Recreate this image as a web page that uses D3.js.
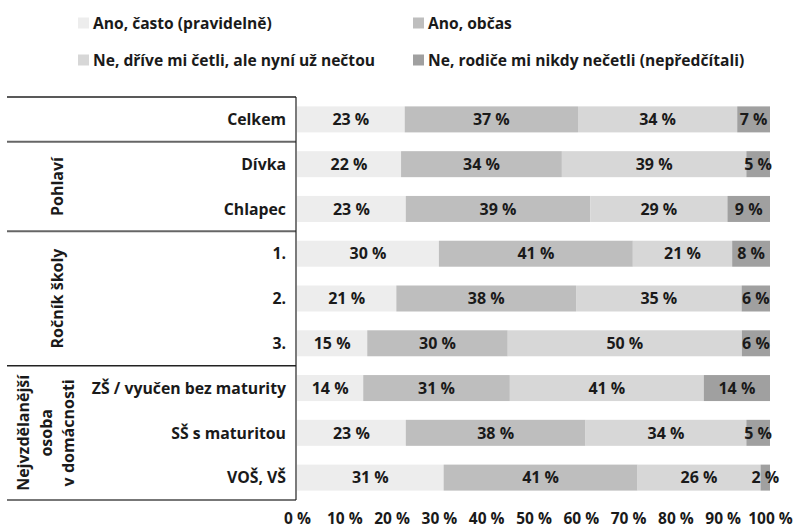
<!DOCTYPE html>
<html>
  <head>
    <meta charset="utf-8">
    <title>Čtení rodičů</title>
    <script src="https://cdn.jsdelivr.net/npm/d3@7/dist/d3.min.js"></script>
    <style>
      body { margin: 0; background: #fff; }
      text { font-family: "Open Sans", sans-serif; font-weight: 700; fill: #1a1a1a; }
    </style>
  </head>
  <body>
    <svg width="797" height="528" id="mainsvg"></svg>
    <script>
      const svg = d3.select('#mainsvg');

      const series = ['Ano, často (pravidelně)', 'Ano, občas', 'Ne, dříve mi četli, ale nyní už nečtou', 'Ne, rodiče mi nikdy nečetli (nepředčítali)'];
      const colors = ['#ededed', '#bebebe', '#d7d7d7', '#a0a0a0'];
      const rows = ['Celkem', 'Dívka', 'Chlapec', '1.', '2.', '3.', 'ZŠ / vyučen bez maturity', 'SŠ s maturitou', 'VOŠ, VŠ'];
      const often   = [23, 22, 23, 30, 21, 15, 14, 23, 31];
      const sometimes = [37, 34, 39, 41, 38, 30, 31, 38, 41];
      const before  = [34, 39, 29, 21, 35, 50, 41, 34, 26];
      const never   = [7, 5, 9, 8, 6, 6, 14, 5, 2];
      const groups = [
        {name: ['Pohlaví'], rows: ['Dívka', 'Chlapec']},
        {name: ['Ročník školy'], rows: ['1.', '2.', '3.']},
        {name: ['Nejvzdělanější', 'osoba', 'v domácnosti'], rows: ['ZŠ / vyučen bez maturity', 'SŠ s maturitou', 'VOŠ, VŠ']}
      ];
      const ticks = [0, 10, 20, 30, 40, 50, 60, 70, 80, 90, 100];

      // 100% stacked: each row normalised by its sum
      const data = rows.map((r, i) => {
        const vals = [often[i], sometimes[i], before[i], never[i]];
        const total = d3.sum(vals);
        let acc = 0;
        return {row: r, segs: vals.map((v, k) => {
          const s = {k, v, x0: acc / total * 100, x1: (acc + v) / total * 100};
          acc += v;
          return s;
        })};
      });

      const xScale = d3.scaleLinear().domain([0, 100]).range([297, 770]);
      const yScale = d3.scaleBand().domain(rows).range([97, 500]);
      const barH = 26;

      // bars
      const rowG = svg.selectAll('.row').data(data).join('g')
        .attr('class', 'row')
        .attr('transform', d => `translate(0, ${yScale(d.row) + yScale.step() / 2})`);
      rowG.selectAll('rect').data(d => d.segs).join('rect')
        .attr('x', d => xScale(d.x0))
        .attr('y', -barH / 2)
        .attr('width', d => xScale(d.x1) - xScale(d.x0))
        .attr('height', barH)
        .attr('fill', d => colors[d.k]);
      rowG.selectAll('.val').data(d => d.segs).join('text')
        .attr('class', 'val')
        .attr('x', d => (xScale(d.x0) + xScale(d.x1)) / 2)
        .attr('y', 0)
        .attr('dy', '0.36em')
        .attr('text-anchor', 'middle')
        .attr('font-size', 16)
        .text(d => d.v + ' %');

      // row labels
      svg.selectAll('.rowlab').data(rows).join('text')
        .attr('class', 'rowlab')
        .attr('x', 286)
        .attr('y', d => yScale(d) + yScale.step() / 2)
        .attr('dy', '0.36em')
        .attr('text-anchor', 'end')
        .attr('font-size', 15.8)
        .text(d => d);

      // table lines
      const lineX0 = 7, lineX1 = 296;
      const hLines = [
        {y: yScale('Celkem'), c: '#222', w: 1.5},
        {y: yScale('Dívka'), c: '#666', w: 2},
        {y: yScale('1.'), c: '#666', w: 2},
        {y: yScale('ZŠ / vyučen bez maturity'), c: '#222', w: 1.5},
        {y: yScale.range()[1], c: '#777', w: 2}
      ];
      svg.selectAll('.hline').data(hLines).join('line')
        .attr('x1', lineX0).attr('x2', lineX1)
        .attr('y1', d => d.y).attr('y2', d => d.y)
        .attr('stroke', d => d.c).attr('stroke-width', d => d.w);
      svg.append('line')
        .attr('x1', lineX1).attr('x2', lineX1)
        .attr('y1', yScale.range()[0]).attr('y2', yScale.range()[1])
        .attr('stroke', '#222').attr('stroke-width', 1.2);

      // group labels (rotated)
      const groupX = {1: [57], 3: [23, 46, 68]};
      groups.forEach(g => {
        const top = yScale(g.rows[0]);
        const bottom = yScale(g.rows[g.rows.length - 1]) + yScale.step();
        const cy = (top + bottom) / 2;
        const xs = groupX[g.name.length] || [57];
        g.name.forEach((n, i) => {
          svg.append('text')
            .attr('transform', `translate(${xs[i]}, ${cy}) rotate(-90)`)
            .attr('text-anchor', 'middle')
            .attr('dy', '0.36em')
            .attr('font-size', 16)
            .text(n);
        });
      });

      // x axis
      const xAxis = d3.axisBottom(xScale).tickValues(ticks).tickSize(0).tickPadding(0)
        .tickFormat(d => d + ' %');
      const xg = svg.append('g').attr('transform', 'translate(0, 512.5)').call(xAxis);
      xg.select('.domain').remove();
      xg.selectAll('text')
        .attr('font-size', 15.5)
        .attr('font-family', '"Open Sans", sans-serif')
        .attr('font-weight', 700)
        .attr('fill', '#1a1a1a');

      // legend
      const legendPos = [[78, 23], [413, 23], [78, 60], [413, 60]];
      const lg = svg.selectAll('.leg').data(series).join('g')
        .attr('class', 'leg')
        .attr('transform', (d, i) => `translate(${legendPos[i][0]}, ${legendPos[i][1]})`);
      lg.append('rect')
        .attr('x', 0).attr('y', -5.5).attr('width', 11).attr('height', 11)
        .attr('fill', (d, i) => colors[i]);
      lg.append('text')
        .attr('x', 15).attr('dy', '0.36em')
        .attr('font-size', 15.6)
        .text(d => d);
    </script>
  </body>
</html>
